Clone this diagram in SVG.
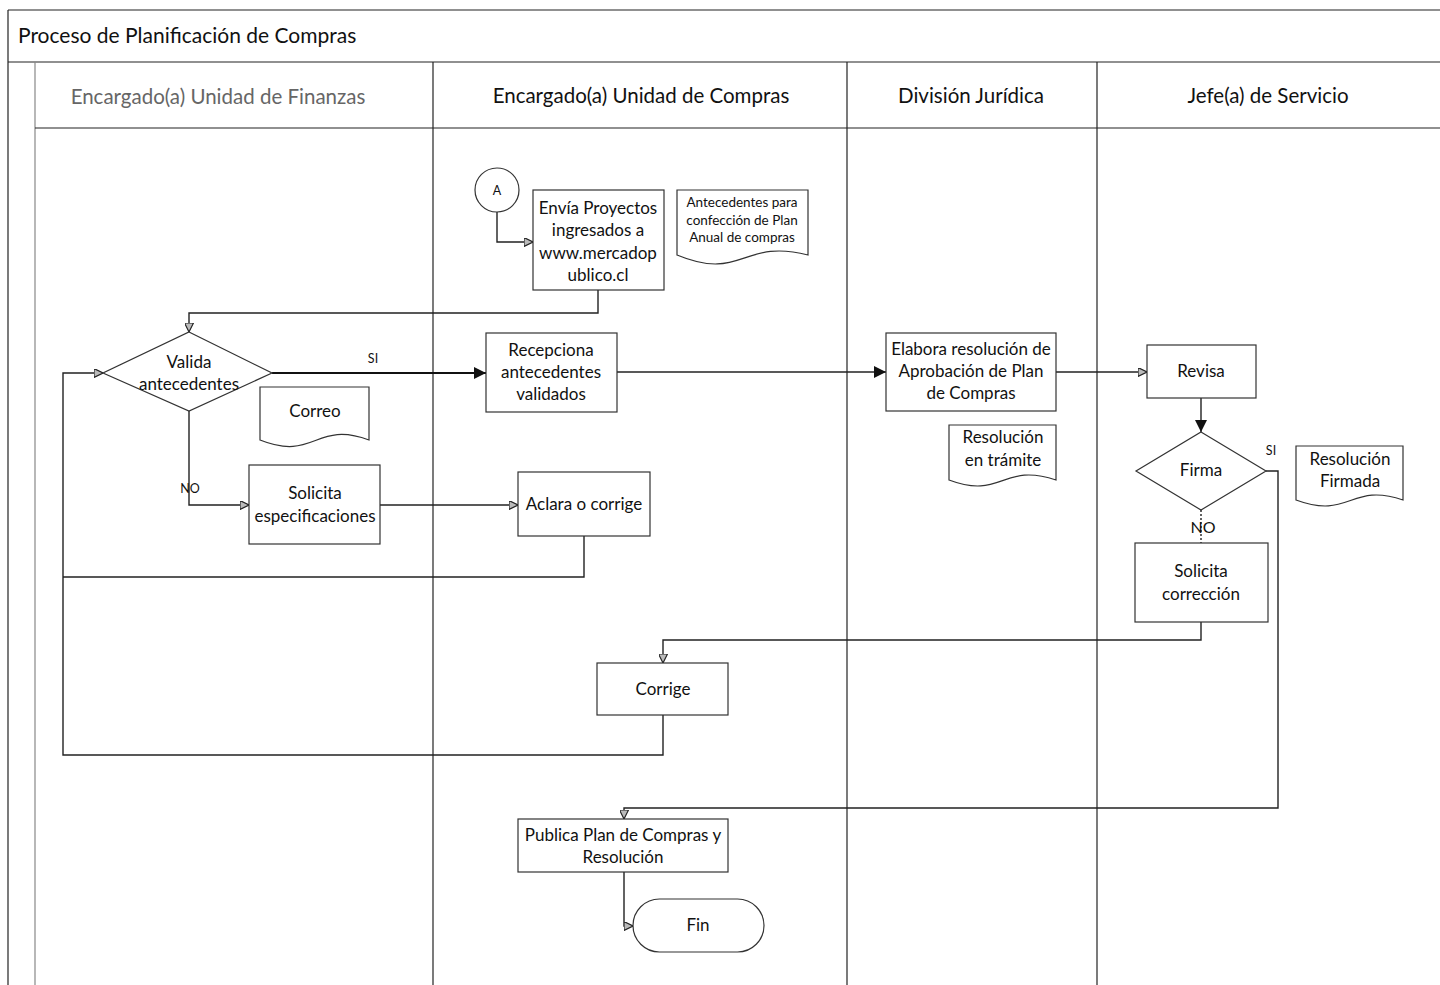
<svg xmlns="http://www.w3.org/2000/svg" width="1440" height="985" viewBox="0 0 1440 985">
  <style>
    .frame { stroke: #222; stroke-width: 1.2; fill: none; }
    .frame-light { stroke: #888; stroke-width: 1.2; fill: none; }
    .box { fill: #fff; stroke: #333; stroke-width: 1.2; }
    .conn { fill: none; stroke: #222; stroke-width: 1.4; }
    .conn-bold { fill: none; stroke: #111; stroke-width: 2.2; }
    text { font-family: Lato, "Open Sans", "Liberation Sans", sans-serif; fill: #111; }
    .title { font-size: 21px; }
    .lane { font-size: 20.5px; text-anchor: middle; }
    .lbl { font-size: 17px; text-anchor: middle; }
    .small { font-size: 13.5px; text-anchor: middle; }
    .tag { font-size: 12.5px; text-anchor: middle; }
  </style>
  <defs>
    <marker id="open" viewBox="0 0 10 10" refX="10" refY="5" markerWidth="9" markerHeight="9" markerUnits="userSpaceOnUse" orient="auto">
      <path d="M0,0 L10,5 L0,10 Z" fill="#bbb" stroke="#222" stroke-width="1.3"/>
    </marker>
    <marker id="solid" viewBox="0 0 10 10" refX="10" refY="5" markerWidth="12" markerHeight="12" markerUnits="userSpaceOnUse" orient="auto">
      <path d="M0,0 L10,5 L0,10 Z" fill="#111"/>
    </marker>
  </defs>

  <rect width="1440" height="985" fill="#fff"/>

  <!-- pool frame, title row and lanes -->
  <g id="pool">
    <line class="frame" x1="8" y1="10" x2="1440" y2="10"/>
    <line class="frame" x1="8" y1="10" x2="8" y2="985"/>
    <line class="frame" x1="8" y1="62" x2="1440" y2="62"/>
    <line class="frame-light" x1="35" y1="62" x2="35" y2="985"/>
    <line class="frame" x1="35" y1="128" x2="1440" y2="128"/>
    <line class="frame" x1="433" y1="62" x2="433" y2="985"/>
    <line class="frame" x1="847" y1="62" x2="847" y2="985"/>
    <line class="frame" x1="1097" y1="62" x2="1097" y2="985"/>
    <text class="title" x="18" y="43">Proceso de Planificación de Compras</text>
    <text class="lane" x="218" y="104" style="fill:#666">Encargado(a) Unidad de Finanzas</text>
    <text class="lane" x="641" y="103">Encargado(a) Unidad de Compras</text>
    <text class="lane" x="971" y="103">División Jurídica</text>
    <text class="lane" x="1268" y="103">Jefe(a) de Servicio</text>
  </g>

  <!-- connectors -->
  <g id="connectors">
    <polyline class="conn" points="497,212 497,242 533,242" marker-end="url(#open)"/>
    <polyline class="conn" points="598,290 598,313 189,313 189,332" marker-end="url(#open)"/>
    <line class="conn-bold" x1="272" y1="373" x2="486" y2="373" marker-end="url(#solid)"/>
    <text class="tag" x="373" y="363">SI</text>
    <line class="conn" x1="617" y1="372" x2="886" y2="372" marker-end="url(#solid)"/>
    <line class="conn" x1="1056" y1="372" x2="1147" y2="372" marker-end="url(#open)"/>
    <line class="conn" x1="1201" y1="398" x2="1201" y2="432" marker-end="url(#solid)"/>
    <polyline class="conn" points="1266,471 1278,471 1278,808 624,808 624,819" marker-end="url(#open)"/>
    <text class="tag" x="1271" y="455">SI</text>
    <line class="conn" x1="1201" y1="510" x2="1201" y2="543" stroke-dasharray="2,2"/>
    <text class="lbl" x="1203" y="533" style="font-size:16px">NO</text>
    <polyline class="conn" points="1201,622 1201,640 663,640 663,663" marker-end="url(#open)"/>
    <polyline class="conn" points="663,715 663,755 63,755 63,373 103,373" marker-end="url(#open)"/>
    <polyline class="conn" points="189,411 189,505 249,505" marker-end="url(#open)"/>
    <text class="tag" x="190" y="493">NO</text>
    <line class="conn" x1="380" y1="505" x2="518" y2="505" marker-end="url(#open)"/>
    <polyline class="conn" points="584,536 584,577 63,577"/>
    <polyline class="conn" points="624,872 624,926 633,926" marker-end="url(#open)"/>
  </g>

  <!-- start connector -->
  <g id="node-a">
    <circle class="box" cx="497" cy="190" r="22"/>
    <text class="tag" x="497" y="195">A</text>
  </g>

  <g id="node-envia">
    <rect class="box" x="533" y="190" width="131" height="100"/>
    <text class="lbl" x="598" y="214">Envía Proyectos</text>
    <text class="lbl" x="598" y="236">ingresados a</text>
    <text class="lbl" x="598" y="259">www.mercadop</text>
    <text class="lbl" x="598" y="281">ublico.cl</text>
  </g>

  <g id="doc-antecedentes">
    <path class="box" d="M677,190 H808 V255 C742,238 742,282 677,255 Z"/>
    <text class="small" x="742" y="207">Antecedentes para</text>
    <text class="small" x="742" y="225">confección de Plan</text>
    <text class="small" x="742" y="242">Anual de compras</text>
  </g>

  <g id="node-valida">
    <polygon class="box" points="189,332 272,373 189,411 103,373"/>
    <text class="lbl" x="189" y="368">Valida</text>
    <text class="lbl" x="189" y="390">antecedentes</text>
  </g>

  <g id="doc-correo">
    <path class="box" d="M260,387 H369 V440 C315,420 315,462 260,440 Z"/>
    <text class="lbl" x="315" y="417">Correo</text>
  </g>

  <g id="node-solicita-esp">
    <rect class="box" x="249" y="465" width="131" height="79"/>
    <text class="lbl" x="315" y="499">Solicita</text>
    <text class="lbl" x="315" y="522">especificaciones</text>
  </g>

  <g id="node-recepciona">
    <rect class="box" x="486" y="333" width="131" height="79"/>
    <text class="lbl" x="551" y="356">Recepciona</text>
    <text class="lbl" x="551" y="378">antecedentes</text>
    <text class="lbl" x="551" y="400">validados</text>
  </g>

  <g id="node-aclara">
    <rect class="box" x="518" y="472" width="132" height="64"/>
    <text class="lbl" x="584" y="510">Aclara o corrige</text>
  </g>

  <g id="node-corrige">
    <rect class="box" x="597" y="663" width="131" height="52"/>
    <text class="lbl" x="663" y="695">Corrige</text>
  </g>

  <g id="node-publica">
    <rect class="box" x="518" y="819" width="210" height="53"/>
    <text class="lbl" x="623" y="841">Publica Plan de Compras y</text>
    <text class="lbl" x="623" y="863">Resolución</text>
  </g>

  <g id="node-fin">
    <rect class="box" x="633" y="899" width="131" height="53" rx="26.5" ry="26.5"/>
    <text class="lbl" x="698" y="931">Fin</text>
  </g>

  <g id="node-elabora">
    <rect class="box" x="886" y="333" width="170" height="78"/>
    <text class="lbl" x="971" y="355">Elabora resolución de</text>
    <text class="lbl" x="971" y="377">Aprobación de Plan</text>
    <text class="lbl" x="971" y="399">de Compras</text>
  </g>

  <g id="doc-tramite">
    <path class="box" d="M949,425 H1056 V480 C1002,462 1002,500 949,480 Z"/>
    <text class="lbl" x="1003" y="443">Resolución</text>
    <text class="lbl" x="1003" y="466">en trámite</text>
  </g>

  <g id="node-revisa">
    <rect class="box" x="1147" y="345" width="109" height="53"/>
    <text class="lbl" x="1201" y="377">Revisa</text>
  </g>

  <g id="node-firma">
    <polygon class="box" points="1201,432 1266,471 1201,510 1136,471"/>
    <text class="lbl" x="1201" y="476">Firma</text>
  </g>

  <g id="doc-firmada">
    <path class="box" d="M1296,446 H1403 V500 C1350,482 1350,520 1296,500 Z"/>
    <text class="lbl" x="1350" y="465">Resolución</text>
    <text class="lbl" x="1350" y="487">Firmada</text>
  </g>

  <g id="node-solicita-corr">
    <rect class="box" x="1135" y="543" width="133" height="79"/>
    <text class="lbl" x="1201" y="577">Solicita</text>
    <text class="lbl" x="1201" y="600">corrección</text>
  </g>
</svg>
